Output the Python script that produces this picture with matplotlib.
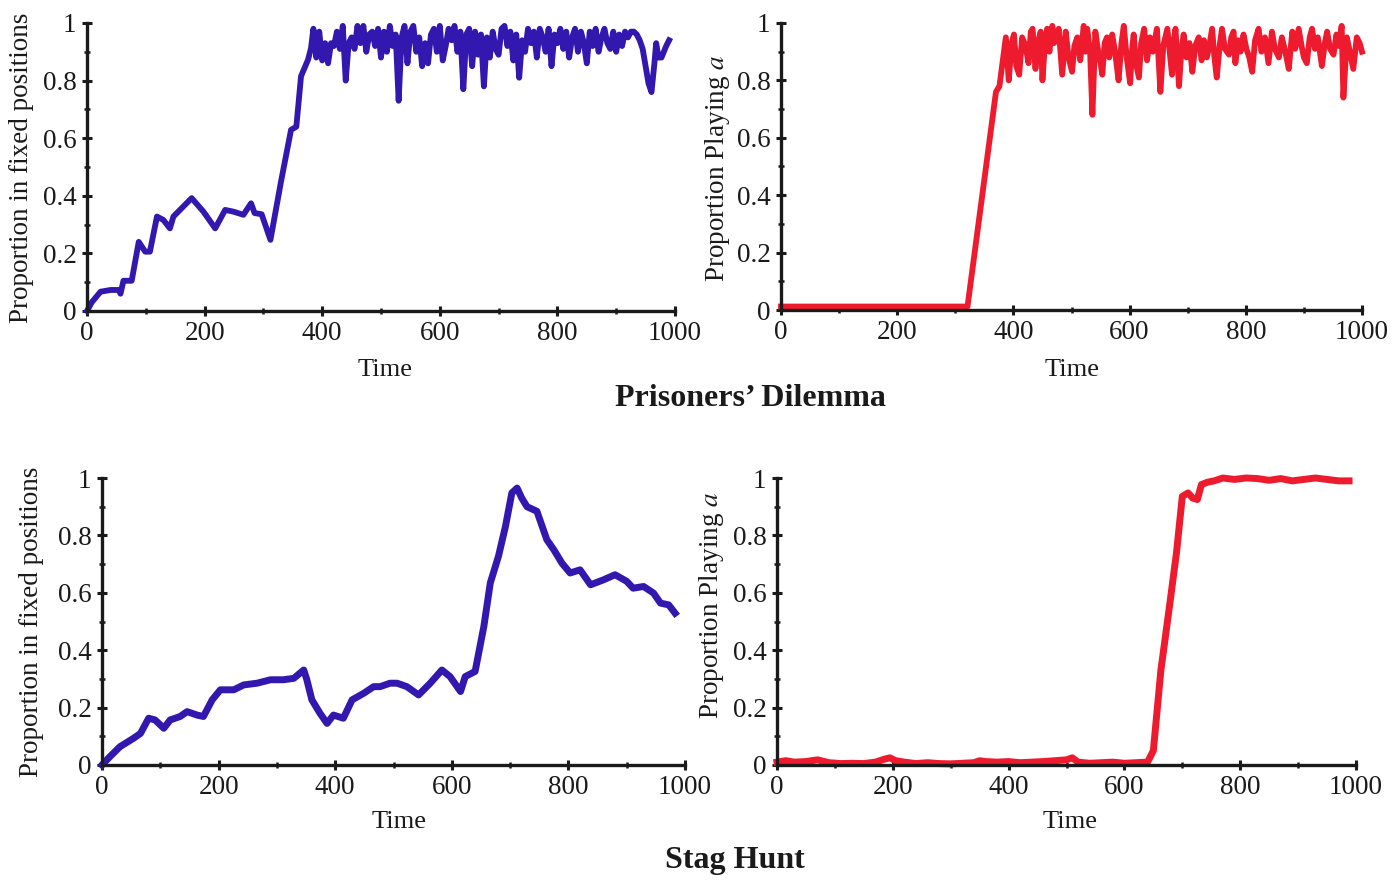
import numpy as np
import matplotlib
matplotlib.use("Agg")
import matplotlib.pyplot as plt
from matplotlib.ticker import MultipleLocator, FixedLocator

plt.rcParams['font.family'] = ['Liberation Serif', 'DejaVu Serif']
plt.rcParams['mathtext.fontset'] = 'stix'

# ---- data ----
# Prisoners' Dilemma, proportion in fixed positions (blue)
pd_fixed_t = [0, 8, 23, 40, 54, 57, 62, 76, 88, 99, 107, 119, 130, 141, 147, 178, 198, 218,
              235, 249, 266, 279, 285, 297, 312, 330, 347, 356, 364, 376, 381,
              385, 390, 395, 400, 405, 410, 415, 420, 425, 430, 435, 440, 445, 450, 455, 460,
              465, 470, 475, 480, 485, 490, 495, 500, 505, 510, 515, 520, 525, 530, 535, 540,
              545, 550, 555, 560, 565, 570, 575, 580, 585, 590, 595, 600, 605, 610, 615, 620,
              625, 630, 635, 640, 645, 650, 655, 660, 665, 670, 675, 680, 685, 690, 695, 700,
              705, 710, 715, 720, 725, 730, 735, 740, 745, 750, 755, 760, 765, 770, 775, 780,
              785, 790, 795, 800, 805, 810, 815, 820, 825, 830, 835, 840, 845, 850, 855, 860,
              865, 870, 875, 880, 885, 890, 895, 900, 905, 910, 915, 920, 925, 930, 935, 940,
              945, 950, 955, 960, 965, 968, 972, 977, 985, 990]
pd_fixed_v = [0, 0.03, 0.067, 0.073, 0.073, 0.06, 0.105, 0.105, 0.24, 0.206, 0.206, 0.328,
              0.316, 0.287, 0.328, 0.392, 0.345, 0.287, 0.351, 0.345, 0.334, 0.374, 0.34, 0.336,
              0.247, 0.45, 0.629, 0.64, 0.815, 0.873, 0.913,
              0.98, 0.88, 0.97, 0.87, 0.93, 0.86, 0.93, 0.92, 0.97, 0.91, 0.99, 0.80, 0.93, 0.95,
              0.91, 0.99, 0.93, 0.99, 0.90, 0.96, 0.97, 0.92, 0.98, 0.88, 0.97, 0.90, 0.99, 0.92,
              0.96, 0.73, 0.95, 0.99, 0.86, 0.97, 0.99, 0.90, 0.95, 0.85, 0.93, 0.86, 0.96, 0.98,
              0.90, 0.99, 0.87, 0.92, 0.98, 0.94, 0.99, 0.90, 0.97, 0.77, 0.96, 0.98, 0.85, 0.97,
              0.89, 0.96, 0.78, 0.95, 0.88, 0.97, 0.91, 0.89, 0.98, 0.99, 0.92, 0.97, 0.87, 0.96,
              0.81, 0.94, 0.90, 0.98, 0.93, 0.97, 0.88, 0.98, 0.95, 0.90, 0.98, 0.85, 0.96, 0.93,
              0.98, 0.91, 0.97, 0.88, 0.95, 0.98, 0.90, 0.97, 0.93, 0.86, 0.97, 0.92, 0.98, 0.90,
              0.95, 0.98, 0.93, 0.91, 0.97, 0.90, 0.96, 0.92, 0.97, 0.95, 0.97, 0.97, 0.96, 0.94,
              0.91, 0.85, 0.79, 0.76, 0.86, 0.93, 0.88, 0.88, 0.92, 0.94]

# Prisoners' Dilemma, proportion playing a (red)
pd_play_t = [0, 100, 200, 300, 321, 370, 376,
             387, 392, 397, 401, 405, 410, 415, 421, 426, 430, 433, 438, 442, 447, 450, 454,
             458, 462, 467, 470, 473, 478, 484, 490, 495, 501, 505, 510, 515, 521, 524, 527,
             532, 536, 541, 546, 550, 553, 557, 561, 565, 570, 575, 581, 586, 590, 595, 601,
             604, 607, 611, 616, 620, 625, 630, 635, 640, 647, 653, 658, 665, 669, 673, 676,
             679, 685, 689, 693, 698, 703, 708, 713, 719, 724, 728, 733, 738, 742, 746, 750,
             755, 759, 764, 771, 775, 779, 782, 787, 791, 796, 801, 806, 811, 816, 822, 827,
             833, 839, 845, 850, 857, 862, 868, 874, 880, 885, 891, 896, 900, 905, 910, 914,
             919, 924, 931, 936, 940, 945, 951, 956, 960, 965, 968, 974, 979, 985, 991, 996,
             1000]
pd_play_v = [0.012, 0.012, 0.012, 0.012, 0.012, 0.76, 0.78,
             0.95, 0.80, 0.93, 0.96, 0.85, 0.82, 0.95, 0.92, 0.86, 0.97, 0.98, 0.84, 0.93,
             0.97, 0.80, 0.92, 0.98, 0.90, 0.99, 0.93, 0.94, 0.98, 0.82, 0.97, 0.88, 0.83,
             0.92, 0.95, 0.87, 0.99, 0.90, 0.98, 0.90, 0.68, 0.97, 0.90, 0.86, 0.82, 0.93,
             0.95, 0.88, 0.96, 0.90, 0.80, 0.93, 0.99, 0.88, 0.79, 0.90, 0.96, 0.86, 0.81,
             0.93, 0.98, 0.87, 0.95, 0.90, 0.98, 0.76, 0.92, 0.98, 0.90, 0.82, 0.94, 0.98,
             0.78, 0.90, 0.96, 0.88, 0.93, 0.83, 0.92, 0.95, 0.87, 0.94, 0.88, 0.93, 0.98,
             0.88, 0.81, 0.92, 0.98, 0.91, 0.89, 0.95, 0.97, 0.86, 0.94, 0.90, 0.96, 0.91,
             0.88, 0.83, 0.94, 0.98, 0.90, 0.95, 0.86, 0.97, 0.91, 0.88, 0.95, 0.90, 0.84,
             0.97, 0.91, 0.98, 0.92, 0.88, 0.86, 0.95, 0.98, 0.91, 0.95, 0.85, 0.93, 0.97,
             0.91, 0.89, 0.96, 0.92, 0.99, 0.74, 0.95, 0.90, 0.84, 0.95, 0.93, 0.90]

# Stag Hunt, proportion in fixed positions (blue)
sh_fixed_t = [0, 14, 31, 54, 66, 80, 91, 106, 117, 134, 146, 163, 174, 189, 203, 226, 243,
              266, 289, 311, 329, 346, 351, 360, 374, 386, 397, 414, 429, 449, 466, 477, 494,
              506, 523, 543, 563, 583, 597, 615, 623, 640, 655, 666, 680, 692, 703, 712, 720,
              729, 746, 763, 775, 789, 803, 820, 838, 860, 880, 900, 911, 929, 946, 958, 972, 983]
sh_fixed_v = [0, 0.03, 0.064, 0.093, 0.11, 0.163, 0.157, 0.128, 0.157, 0.169, 0.186, 0.174,
              0.169, 0.227, 0.262, 0.262, 0.279, 0.285, 0.297, 0.297, 0.302, 0.331, 0.30,
              0.227, 0.18, 0.145, 0.174, 0.163, 0.227, 0.25, 0.273, 0.273, 0.285, 0.285,
              0.273, 0.244, 0.285, 0.331, 0.308, 0.256, 0.308, 0.326, 0.483, 0.634, 0.727,
              0.831, 0.948, 0.965, 0.93, 0.90, 0.884, 0.785, 0.75, 0.703, 0.669, 0.68, 0.628,
              0.645, 0.663, 0.64, 0.616, 0.622, 0.599, 0.564, 0.558, 0.529]

# Stag Hunt, proportion playing a (red)
sh_play_t = [0, 15, 30, 50, 70, 90, 110, 130, 150, 170, 185, 195, 205, 220, 240, 260, 280,
             300, 320, 340, 350, 360, 380, 400, 420, 440, 460, 480, 500, 510, 520, 540, 560,
             580, 600, 620, 640, 650, 663, 677, 690, 700, 710, 718, 726, 733, 743, 755, 770,
             790, 810, 830, 850, 870, 890, 910, 930, 950, 970, 988]
sh_play_v = [0.01, 0.015, 0.01, 0.012, 0.018, 0.008, 0.005, 0.006, 0.005, 0.01, 0.02, 0.025,
             0.015, 0.01, 0.005, 0.008, 0.005, 0.004, 0.006, 0.008, 0.015, 0.012, 0.01, 0.012,
             0.008, 0.01, 0.012, 0.015, 0.018, 0.025, 0.01, 0.006, 0.008, 0.01, 0.006, 0.008,
             0.01, 0.05, 0.33, 0.54, 0.74, 0.936, 0.948, 0.93, 0.925, 0.977, 0.985, 0.99, 1.0,
             0.995, 1.0, 0.998, 0.992, 0.998, 0.99, 0.995, 1.0, 0.995, 0.99, 0.99]

x_ticks = [0, 200, 400, 600, 800, 1000]
y_ticks = [0, 0.2, 0.4, 0.6, 0.8, 1]
y_tick_labels = ['0', '0.2', '0.4', '0.6', '0.8', '1']

blue = '#3318b0'
red = '#ee1a2e'
ink = '#1a1a1a'

W, H = 1396, 880
fig = plt.figure(figsize=(W / 100, H / 100), dpi=100)


def make_axes(x0, x1, y0, y1):
    # pixel positions of the data origin / x=1000 / y=1 in the reference
    ax = fig.add_axes([x0 / W, 1 - y0 / H, (x1 - x0) / W, (y0 - y1) / H])
    ax.set_xlim(0, 1000)
    ax.set_ylim(0, 1)
    for s in ['top', 'right']:
        ax.spines[s].set_visible(False)
    for s in ['left', 'bottom']:
        ax.spines[s].set_linewidth(2.4)
        ax.spines[s].set_color(ink)
    ax.xaxis.set_major_locator(FixedLocator(x_ticks))
    ax.xaxis.set_minor_locator(MultipleLocator(100))
    ax.yaxis.set_major_locator(FixedLocator(y_ticks))
    ax.yaxis.set_minor_locator(MultipleLocator(0.1))
    ax.set_yticklabels(y_tick_labels)
    ax.tick_params(which='major', direction='inout', length=7, width=2.2, color=ink,
                   labelsize=19.5, labelcolor=ink, pad=4)
    ax.tick_params(which='minor', direction='inout', length=5, width=1.8, color=ink)
    ax.patch.set_alpha(0)
    return ax


ax1 = make_axes(87, 675, 311, 23)
ax1.plot(pd_fixed_t, pd_fixed_v, color=blue, lw=4.2, clip_on=False)

ax2 = make_axes(781, 1362, 310, 23)
ax2.plot(pd_play_t, pd_play_v, color=red, lw=4.2, clip_on=False)

ax3 = make_axes(102, 685, 765, 478)
ax3.plot(sh_fixed_t, sh_fixed_v, color=blue, lw=5, clip_on=False)

ax4 = make_axes(777, 1356, 765, 478)
ax4.plot(sh_play_t, sh_play_v, color=red, lw=5, clip_on=False)

# axis titles
fs = 19.5
fig.text(22 / W, 1 - 168 / H, 'Proportion in fixed positions', rotation=90, ha='center',
         va='center', fontsize=fs, color=ink)
fig.text(718 / W, 1 - 168 / H, 'Proportion Playing $a$', rotation=90, ha='center',
         va='center', fontsize=fs, color=ink)
fig.text(32 / W, 1 - 622 / H, 'Proportion in fixed positions', rotation=90, ha='center',
         va='center', fontsize=fs, color=ink)
fig.text(712 / W, 1 - 605 / H, 'Proportion Playing $a$', rotation=90, ha='center',
         va='center', fontsize=fs, color=ink)

for cx, cy in [(385, 370), (1072, 370), (399, 822), (1070, 822)]:
    fig.text(cx / W, 1 - cy / H, 'Time', ha='center', va='center', fontsize=19, color=ink)

fig.text(750 / W, 1 - 398 / H, 'Prisoners\u2019 Dilemma', ha='center', va='center',
         fontsize=23, fontweight='bold', color=ink)
fig.text(735 / W, 1 - 860 / H, 'Stag Hunt', ha='center', va='center',
         fontsize=23, fontweight='bold', color=ink)

fig.savefig('out.png', dpi=100)
